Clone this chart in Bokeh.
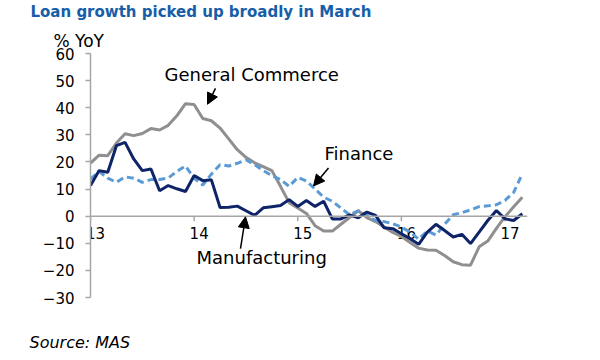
from bokeh.plotting import figure
from bokeh.models import Range1d, FixedTicker, Span, Label, Arrow, NormalHead, Title
from bokeh.core.properties import value
from bokeh.embed import file_html
from bokeh.resources import INLINE

# ---- data (monthly, Jan 2013 .. Mar 2017), % YoY ----
year_labels = ["13", "14", "15", "16", "17"]
general_commerce = [19.6, 22.5, 22.3, 27.0, 30.4, 29.7, 30.5, 32.3, 31.8, 33.5,
                    37.0, 41.5, 41.2, 36.0, 35.2, 32.5, 28.5, 24.5, 21.7, 19.7,
                    18.3, 16.8, 11.0, 5.0, 3.0, 1.0, -3.5, -5.5, -5.5, -3.0,
                    -0.5, 2.0, -0.5, -2.0, -4.0, -6.0, -7.5, -9.7, -11.8, -12.5,
                    -12.6, -14.5, -16.8, -17.9, -18.1, -11.3, -9.2, -4.5, -0.2, 3.5,
                    7.0]
finance = [13.7, 16.5, 14.0, 12.5, 14.5, 14.0, 12.5, 13.5, 13.5, 14.1,
           16.5, 18.5, 14.0, 11.5, 15.5, 19.0, 18.5, 19.5, 20.8, 19.0,
           16.8, 15.0, 13.5, 11.0, 14.3, 13.0, 10.0, 7.0, 5.5, 3.0,
           0.5, 2.0, 0.3, -1.6, -2.0, -2.8, -4.0, -5.9, -8.5, -5.5,
           -7.0, -3.0, 0.5, 1.3, 2.3, 3.5, 3.8, 4.2, 5.8, 8.8,
           15.6]
manufacturing = [11.3, 16.8, 16.2, 26.0, 27.2, 21.1, 16.8, 17.4, 9.4, 11.3,
                 10.1, 9.1, 15.0, 13.1, 13.4, 3.2, 3.3, 3.7, 2.0, 0.3,
                 3.1, 3.5, 3.9, 6.1, 3.6, 5.8, 3.6, 5.5, -1.0, -1.0,
                 0.5, -0.6, 1.5, 0.3, -4.3, -4.6, -6.5, -8.3, -10.4, -5.9,
                 -3.0, -5.3, -7.7, -6.7, -10.1, -5.9, -1.6, 2.1, -1.0, -1.6,
                 0.9]
months = list(range(len(general_commerce)))
y_ticks = [-30, -20, -10, 0, 10, 20, 30, 40, 50, 60]
year_ticks = [12 * i for i in range(len(year_labels))]

# ---- geometry (canvas pixels) ----
W, H = 592, 352
ML, MR, MT, MB = 90, 65, 53, 54
X0, X1 = 0, 50.6
Y0, Y1 = -30, 60
FW, FH = W - ML - MR, H - MT - MB
PX = (X1 - X0) / FW   # data units per pixel (x)
PY = (Y1 - Y0) / FH   # data units per pixel (y)


def dx(cx):
    return X0 + (cx - ML) * PX


def dy(cy):
    return Y1 - (cy - MT) * PY


FONT = "DejaVu Sans"
GRAY_AX = "#A6A6A6"

p = figure(width=W, height=H, x_range=Range1d(X0, X1), y_range=Range1d(Y0, Y1),
           output_backend="svg", toolbar_location=None, x_axis_location=None,
           title=None, min_border_left=ML, min_border_right=MR,
           min_border_top=MT, min_border_bottom=MB)
p.grid.visible = False
p.outline_line_color = None
p.background_fill_color = "white"
p.border_fill_color = "white"

ax = p.yaxis[0]
ax.ticker = FixedTicker(ticks=y_ticks)
ax.axis_line_color = GRAY_AX
ax.axis_line_width = 1.5
ax.major_tick_line_color = GRAY_AX
ax.major_tick_line_width = 1.5
ax.major_tick_out = 5
ax.major_tick_in = 0
ax.minor_tick_line_color = None
ax.major_label_text_font = FONT
ax.major_label_text_font_size = "15px"
ax.major_label_text_color = "black"
ax.major_label_standoff = 11

# titles outside the plot frame
p.add_layout(Title(text="% YoY", align="left", offset=53 - ML, standoff=6,
                   text_font=FONT, text_font_size="17px",
                   text_font_style="normal", text_color="black"), "above")
p.add_layout(Title(text="Loan growth picked up broadly in March", align="left",
                   offset=30 - ML, standoff=5, vertical_align="top",
                   text_font=FONT, text_font_size="15px", text_font_style="bold",
                   text_color="#175EA8"), "above")
p.add_layout(Title(text=" ", align="left", standoff=12, text_font=FONT,
                   text_font_size="15px"), "below")
p.add_layout(Title(text="Source: MAS", align="left", offset=29 - ML, standoff=2,
                   text_font=FONT, text_font_size="16px",
                   text_font_style="italic", text_color="black"), "below")

# zero line acting as x axis
p.add_layout(Span(location=0, dimension="width", line_color=GRAY_AX, line_width=1.5))
p.segment(x0=year_ticks, y0=[0] * len(year_ticks), x1=year_ticks,
          y1=[-5 * PY] * len(year_ticks), line_color=GRAY_AX, line_width=1.5)
p.text(x=[t + 5 * PX for t in year_ticks], y=[-17 * PY] * len(year_ticks),
       text=year_labels, text_align="center", text_baseline="alphabetic",
       text_font=value(FONT), text_font_size="15px", text_color="black")

# series
p.line(months, general_commerce, line_color="#8F8F8F", line_width=3)
p.line(months, finance, line_color="#5B9BD5", line_width=3, line_dash="7 4")
p.line(months, manufacturing, line_color="#0F2468", line_width=3)


def add_label(cx, cy, text, size):
    p.add_layout(Label(x=dx(cx), y=dy(cy), text=text, text_font=FONT,
                       text_font_size=size, text_color="black",
                       text_baseline="alphabetic", text_align="left"))


add_label(164, 74.5, "General Commerce", "18px")
add_label(324, 153, "Finance", "18px")
add_label(196, 258, "Manufacturing", "18px")


def add_arrow(x_s, y_s, x_e, y_e):
    p.add_layout(Arrow(end=NormalHead(size=11, fill_color="black", line_color="black"),
                       x_start=dx(x_s), y_start=dy(y_s), x_end=dx(x_e), y_end=dy(y_e),
                       line_color="black", line_width=1.5))


add_arrow(215, 88, 207, 104)
add_arrow(328, 168, 313, 186)
add_arrow(240, 249, 245, 217)

open("out.html", "w").write(file_html(p, INLINE))
